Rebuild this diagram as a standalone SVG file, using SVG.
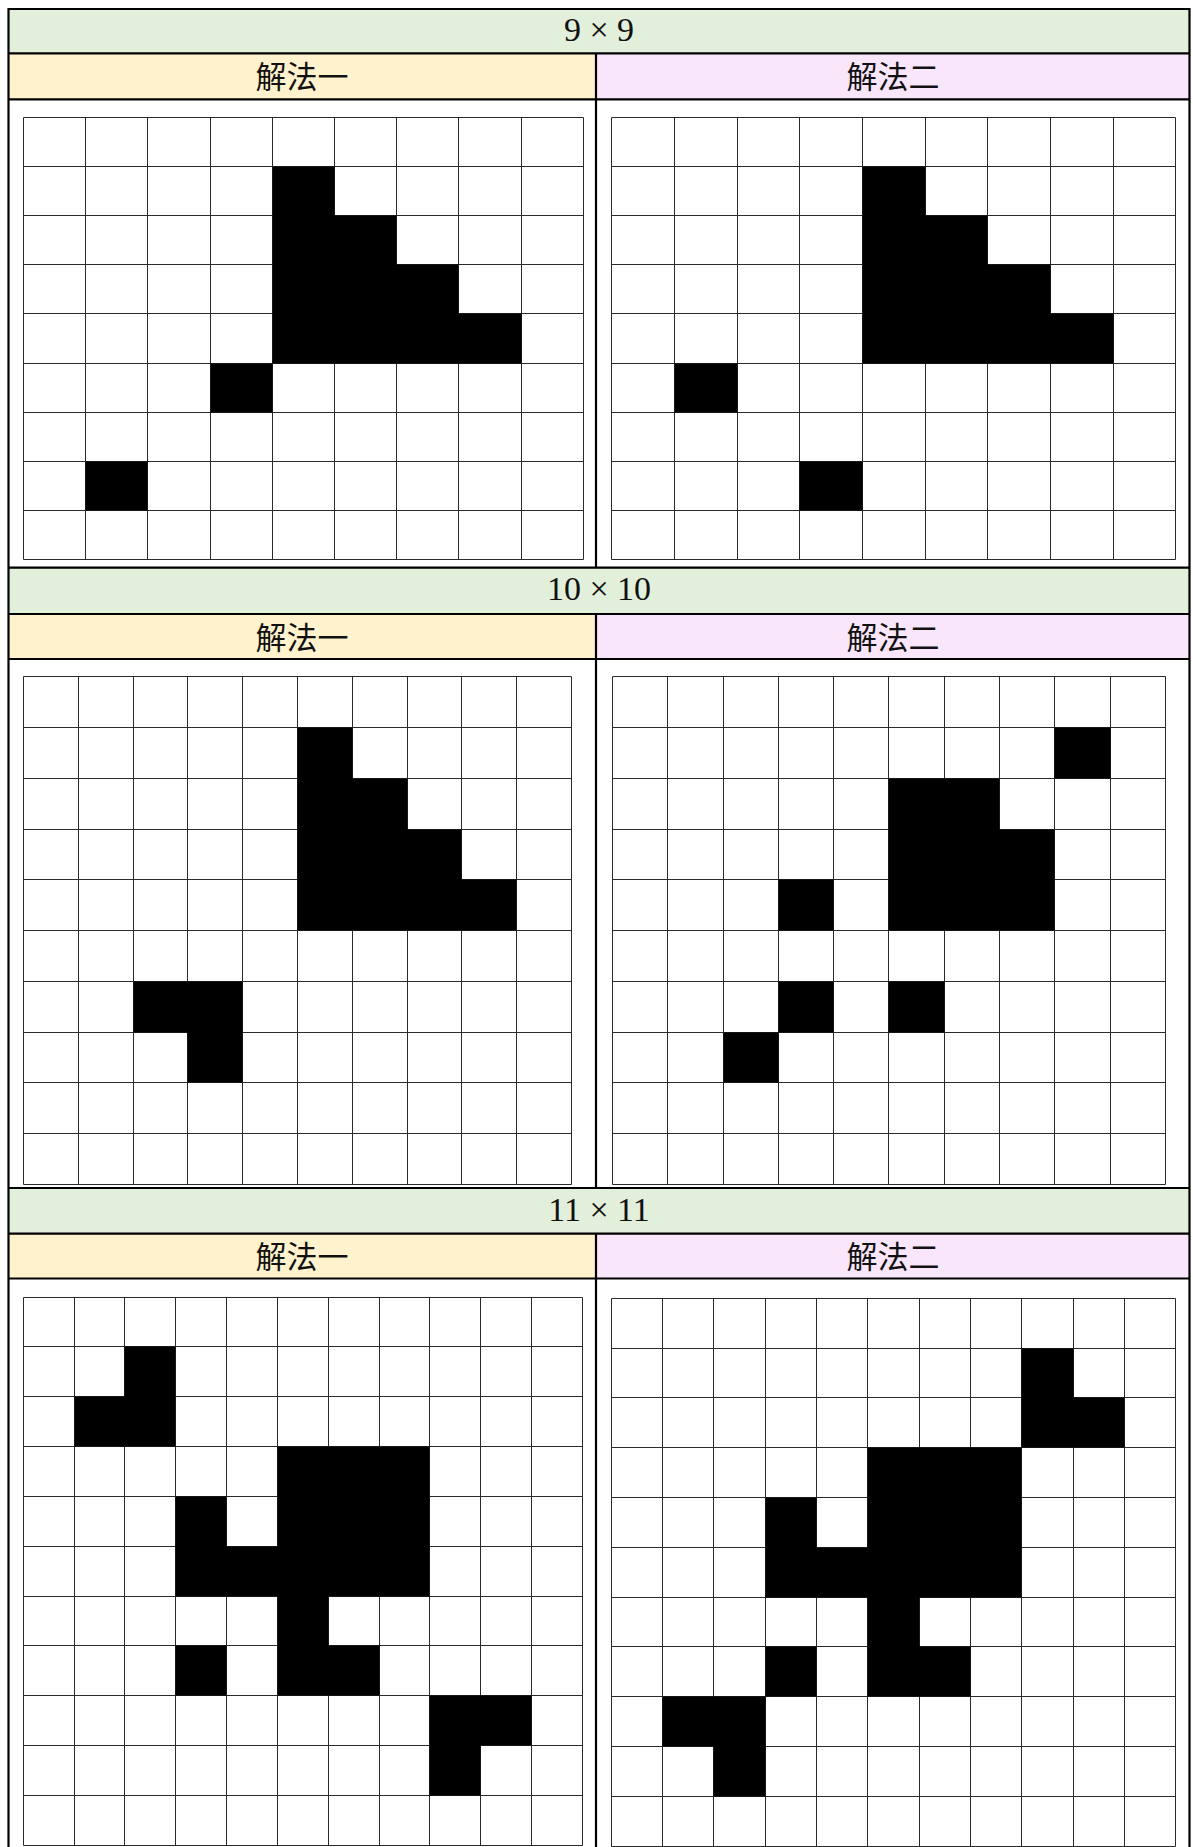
<svg xmlns="http://www.w3.org/2000/svg" width="1193" height="1847" viewBox="0 0 1193 1847">
<style>
.bg{fill:#ffffff}
.g{fill:#E2EFDA}
.y{fill:#FFF2CC}
.p{fill:#F9E6FB}
.grid{fill:none;stroke:#2a2a2a;stroke-width:1}
.blk{fill:#000000}
.tl{fill:none;stroke:#000000;stroke-width:2.2}
.tt{font-family:"Liberation Serif","DejaVu Serif",serif;font-size:34px;fill:#111111;text-anchor:middle}
.st{font-family:"Noto Sans CJK SC","Noto Sans CJK JP",sans-serif;font-size:31px;fill:#111111;text-anchor:middle}
</style>
<rect x="0" y="0" width="1193" height="1847" class="bg"/>

<!-- Section 1: 9x9 -->
<g id="sec9-title">
<rect x="8.5" y="9" width="1181" height="44.3" class="g"/>
<text x="599" y="41" class="tt">9 × 9</text>
</g>
<g id="sec9-h1">
<rect x="8.5" y="53.3" width="587.5" height="46" class="y"/>
<text x="302" y="88" class="st">解法一</text>
</g>
<g id="sec9-h2">
<rect x="596" y="53.3" width="593.5" height="46" class="p"/>
<text x="893" y="88" class="st">解法二</text>
</g>
<g id="grid9-1">
<path class="grid" d="M23.5,117.5 V559.5 M85.5,117.5 V559.5 M147.5,117.5 V559.5 M210.5,117.5 V559.5 M272.5,117.5 V559.5 M334.5,117.5 V559.5 M396.5,117.5 V559.5 M458.5,117.5 V559.5 M521.5,117.5 V559.5 M583.5,117.5 V559.5 M23.5,117.5 H583.5 M23.5,166.5 H583.5 M23.5,215.5 H583.5 M23.5,264.5 H583.5 M23.5,313.5 H583.5 M23.5,363.5 H583.5 M23.5,412.5 H583.5 M23.5,461.5 H583.5 M23.5,510.5 H583.5 M23.5,559.5 H583.5"/>
<path class="blk" d="M272.5,166.5 H334.5 V215.5 H396.5 V264.5 H458.5 V313.5 H521.5 V363.5 H272.5 Z"/>
<rect class="blk" x="210.5" y="363.5" width="62" height="49"/>
<rect class="blk" x="85.5" y="461.5" width="62" height="49"/>
</g>
<g id="grid9-2">
<path class="grid" d="M611.5,117.5 V559.5 M674.5,117.5 V559.5 M737.5,117.5 V559.5 M799.5,117.5 V559.5 M862.5,117.5 V559.5 M925.5,117.5 V559.5 M987.5,117.5 V559.5 M1050.5,117.5 V559.5 M1113.5,117.5 V559.5 M1175.5,117.5 V559.5 M611.5,117.5 H1175.5 M611.5,166.5 H1175.5 M611.5,215.5 H1175.5 M611.5,264.5 H1175.5 M611.5,313.5 H1175.5 M611.5,363.5 H1175.5 M611.5,412.5 H1175.5 M611.5,461.5 H1175.5 M611.5,510.5 H1175.5 M611.5,559.5 H1175.5"/>
<path class="blk" d="M862.5,166.5 H925.5 V215.5 H987.5 V264.5 H1050.5 V313.5 H1113.5 V363.5 H862.5 Z"/>
<rect class="blk" x="674.5" y="363.5" width="63" height="49"/>
<rect class="blk" x="799.5" y="461.5" width="63" height="49"/>
</g>

<!-- Section 2: 10x10 -->
<g id="sec10-title">
<rect x="8.5" y="567.7" width="1181" height="46.3" class="g"/>
<text x="599" y="600" class="tt">10 × 10</text>
</g>
<g id="sec10-h1">
<rect x="8.5" y="614" width="587.5" height="45" class="y"/>
<text x="302" y="648.5" class="st">解法一</text>
</g>
<g id="sec10-h2">
<rect x="596" y="614" width="593.5" height="45" class="p"/>
<text x="893" y="648.5" class="st">解法二</text>
</g>
<g id="grid10-1">
<path class="grid" d="M23.5,676.5 V1184.5 M78.5,676.5 V1184.5 M133.5,676.5 V1184.5 M187.5,676.5 V1184.5 M242.5,676.5 V1184.5 M297.5,676.5 V1184.5 M352.5,676.5 V1184.5 M407.5,676.5 V1184.5 M461.5,676.5 V1184.5 M516.5,676.5 V1184.5 M571.5,676.5 V1184.5 M23.5,676.5 H571.5 M23.5,727.5 H571.5 M23.5,778.5 H571.5 M23.5,829.5 H571.5 M23.5,879.5 H571.5 M23.5,930.5 H571.5 M23.5,981.5 H571.5 M23.5,1032.5 H571.5 M23.5,1082.5 H571.5 M23.5,1133.5 H571.5 M23.5,1184.5 H571.5"/>
<path class="blk" d="M297.5,727.5 H352.5 V778.5 H407.5 V829.5 H461.5 V879.5 H516.5 V930.5 H297.5 Z"/>
<path class="blk" d="M133.5,981.5 H242.5 V1082.5 H187.5 V1032.5 H133.5 Z"/>
</g>
<g id="grid10-2">
<path class="grid" d="M612.5,676.5 V1184.5 M667.5,676.5 V1184.5 M723.5,676.5 V1184.5 M778.5,676.5 V1184.5 M833.5,676.5 V1184.5 M888.5,676.5 V1184.5 M944.5,676.5 V1184.5 M999.5,676.5 V1184.5 M1054.5,676.5 V1184.5 M1110.5,676.5 V1184.5 M1165.5,676.5 V1184.5 M612.5,676.5 H1165.5 M612.5,727.5 H1165.5 M612.5,778.5 H1165.5 M612.5,829.5 H1165.5 M612.5,879.5 H1165.5 M612.5,930.5 H1165.5 M612.5,981.5 H1165.5 M612.5,1032.5 H1165.5 M612.5,1082.5 H1165.5 M612.5,1133.5 H1165.5 M612.5,1184.5 H1165.5"/>
<rect class="blk" x="1054.5" y="727.5" width="56" height="51"/>
<path class="blk" d="M888.5,778.5 H999.5 V829.5 H1054.5 V930.5 H888.5 Z"/>
<rect class="blk" x="778.5" y="879.5" width="55" height="51"/>
<rect class="blk" x="778.5" y="981.5" width="55" height="51"/>
<rect class="blk" x="888.5" y="981.5" width="56" height="51"/>
<rect class="blk" x="723.5" y="1032.5" width="55" height="50"/>
</g>

<!-- Section 3: 11x11 -->
<g id="sec11-title">
<rect x="8.5" y="1188" width="1181" height="45.7" class="g"/>
<text x="599" y="1220.5" class="tt">11 × 11</text>
</g>
<g id="sec11-h1">
<rect x="8.5" y="1233.7" width="587.5" height="44.8" class="y"/>
<text x="302" y="1268.3" class="st">解法一</text>
</g>
<g id="sec11-h2">
<rect x="596" y="1233.7" width="593.5" height="44.8" class="p"/>
<text x="893" y="1268.3" class="st">解法二</text>
</g>
<g id="grid11-1">
<path class="grid" d="M23.5,1297.5 V1845.5 M74.5,1297.5 V1845.5 M124.5,1297.5 V1845.5 M175.5,1297.5 V1845.5 M226.5,1297.5 V1845.5 M277.5,1297.5 V1845.5 M328.5,1297.5 V1845.5 M379.5,1297.5 V1845.5 M429.5,1297.5 V1845.5 M480.5,1297.5 V1845.5 M531.5,1297.5 V1845.5 M582.5,1297.5 V1845.5 M23.5,1297.5 H582.5 M23.5,1346.5 H582.5 M23.5,1396.5 H582.5 M23.5,1446.5 H582.5 M23.5,1496.5 H582.5 M23.5,1546.5 H582.5 M23.5,1596.5 H582.5 M23.5,1645.5 H582.5 M23.5,1695.5 H582.5 M23.5,1745.5 H582.5 M23.5,1795.5 H582.5 M23.5,1845.5 H582.5"/>
<path class="blk" d="M124.5,1346.5 H175.5 V1446.5 H74.5 V1396.5 H124.5 Z"/>
<path class="blk" d="M277.5,1446.5 H429.5 V1596.5 H328.5 V1645.5 H379.5 V1695.5 H277.5 V1596.5 H175.5 V1496.5 H226.5 V1546.5 H277.5 Z"/>
<rect class="blk" x="175.5" y="1645.5" width="51" height="50"/>
<path class="blk" d="M429.5,1695.5 H531.5 V1745.5 H480.5 V1795.5 H429.5 Z"/>
</g>
<g id="grid11-2">
<path class="grid" d="M611.5,1298.5 V1846.5 M662.5,1298.5 V1846.5 M713.5,1298.5 V1846.5 M765.5,1298.5 V1846.5 M816.5,1298.5 V1846.5 M867.5,1298.5 V1846.5 M919.5,1298.5 V1846.5 M970.5,1298.5 V1846.5 M1021.5,1298.5 V1846.5 M1073.5,1298.5 V1846.5 M1124.5,1298.5 V1846.5 M1175.5,1298.5 V1846.5 M611.5,1298.5 H1175.5 M611.5,1348.5 H1175.5 M611.5,1397.5 H1175.5 M611.5,1447.5 H1175.5 M611.5,1497.5 H1175.5 M611.5,1547.5 H1175.5 M611.5,1597.5 H1175.5 M611.5,1646.5 H1175.5 M611.5,1696.5 H1175.5 M611.5,1746.5 H1175.5 M611.5,1796.5 H1175.5 M611.5,1846.5 H1175.5"/>
<path class="blk" d="M1021.5,1348.5 H1073.5 V1397.5 H1124.5 V1447.5 H1021.5 Z"/>
<path class="blk" d="M867.5,1447.5 H1021.5 V1597.5 H919.5 V1646.5 H970.5 V1696.5 H867.5 V1597.5 H765.5 V1497.5 H816.5 V1547.5 H867.5 Z"/>
<rect class="blk" x="765.5" y="1646.5" width="51" height="50"/>
<path class="blk" d="M662.5,1696.5 H765.5 V1796.5 H713.5 V1746.5 H662.5 Z"/>
</g>

<!-- Table rules -->
<g id="table-lines">
<path class="tl" d="M8.5,9 H1189.5 M8.5,53.3 H1189.5 M8.5,99.3 H1189.5 M8.5,567.7 H1189.5 M8.5,614 H1189.5 M8.5,659 H1189.5 M8.5,1188 H1189.5 M8.5,1233.7 H1189.5 M8.5,1278.5 H1189.5"/>
<path class="tl" d="M8.5,8 V1847 M1189.5,8 V1847 M596,53.3 V567.7 M596,614 V1188 M596,1233.7 V1847" stroke-width="2.6"/>
</g>
</svg>
